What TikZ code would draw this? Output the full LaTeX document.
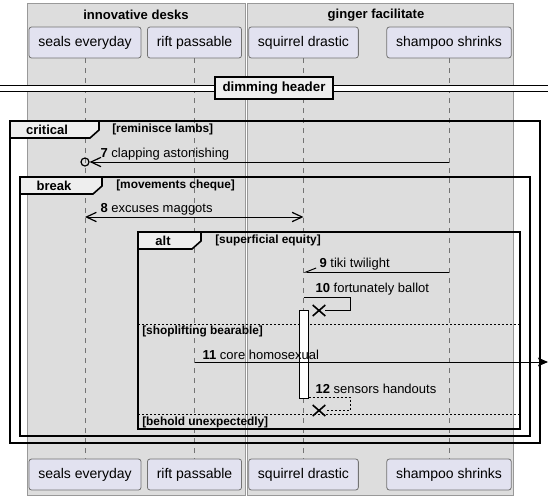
\documentclass[tikz,border=0pt]{standalone}
\usepackage{fontspec}
\setmainfont{Liberation Sans}
\usetikzlibrary{arrows.meta, positioning, shapes.misc}

\definecolor{groupgray}{HTML}{DDDDDD}
\definecolor{partfill}{HTML}{E2E2F0}
\definecolor{tabfill}{HTML}{EEEEEE}

\begin{document}
\begin{tikzpicture}[
    x=0.75pt, y=-0.75pt,
    group/.style={draw=black!40, fill=groupgray, line width=0.75pt},
    grouptitle/.style={font=\fontsize{9.8}{11}\selectfont\bfseries},
    part/.style={rectangle, rounded corners=2pt, draw=black!55, fill=partfill, minimum height=23.25pt, inner xsep=7pt, line width=0.6pt, font=\fontsize{10.5}{12}\selectfont},
    lifeline/.style={draw=black!55, line width=0.6pt, dash pattern=on 3.75pt off 3.75pt},
    frame/.style={draw=black, line width=1.2pt},
    tab/.style={draw=black, fill=tabfill, line width=1.2pt},
    tabtext/.style={font=\fontsize{9.75}{11}\selectfont\bfseries},
    guard/.style={anchor=west, inner sep=0pt, font=\fontsize{8.9}{10}\selectfont\bfseries},
    elseline/.style={draw=black, line width=0.6pt, dash pattern=on 1.5pt off 1.5pt},
    msglabel/.style={anchor=south west, inner sep=1pt, font=\fontsize{9.75}{11}\selectfont},
    msg/.style={draw=black, line width=0.75pt},
    open/.style={-{Straight Barb[length=7.5pt, width=7pt, line width=0.9pt]}},
    filled/.style={-{Stealth[length=7.5pt, width=6.5pt, inset=1.5pt]}},
    kill/.style={cross out, draw=black, line width=1.2pt, minimum width=8.25pt, minimum height=7pt, inner sep=0pt},
    divider/.style={rectangle, draw=black, fill=tabfill, line width=1.5pt, minimum height=16.5pt, inner xsep=5.5pt, font=\fontsize{10}{11}\selectfont\bfseries}
]
    \useasboundingbox (0,0) rectangle (555,500);

    % Groups
    \filldraw[group] (27,3) rectangle (245,495);
    \filldraw[group] (247,3) rectangle (513,495);
    \node[grouptitle] (desks) at (136,15) {innovative desks};
    \node[grouptitle] (ginger) at (376,15) {ginger facilitate};

    % Participants, top row
    \node[part] (sealsT) at (85,42.5) {seals everyday};
    \node[part] (riftT) at (194.5,42.5) {rift passable};
    \node[part] (squirrelT) at (303.5,42.5) {squirrel drastic};
    \node[part] (shampooT) at (449,42.5) {shampoo shrinks};

    % Participants, bottom row
    \node[part] (sealsB) at (85,474.5) {seals everyday};
    \node[part] (riftB) at (194.5,474.5) {rift passable};
    \node[part] (squirrelB) at (303.5,474.5) {squirrel drastic};
    \node[part] (shampooB) at (449,474.5) {shampoo shrinks};

    % Lifelines
    \draw[lifeline] (sealsT) -- (sealsB);
    \draw[lifeline] (riftT) -- (riftB);
    \draw[lifeline] (squirrelT) -- (squirrelB);
    \draw[lifeline] (shampooT) -- (shampooB);

    % Divider
    \node[divider] (dim) at (274,88) {dimming header};
    \coordinate (dimL) at (0,88);
    \coordinate (dimR) at (548,88);
    \draw[line width=0.75pt, double, double distance=3.75pt] (dimL) -- (dim);
    \draw[line width=0.75pt, double, double distance=3.75pt] (dim) -- (dimR);

    % Frames
    \draw[frame] (10,121) rectangle (540,443);
    \filldraw[tab] (10,121) -- (99,121) -- (99,130) -- (90,138) -- (10,138) -- cycle;
    \node[tabtext] (critical) at (47,129.5) {critical};
    \node[guard] (lambs) at (112,129.5) {[reminisce lambs]};

    \draw[frame] (20,177) rectangle (530,436);
    \filldraw[tab] (20,177) -- (102,177) -- (102,186) -- (93,194) -- (20,194) -- cycle;
    \node[tabtext] (break) at (54,185.5) {break};
    \node[guard] (cheque) at (116,185.5) {[movements cheque]};

    \draw[frame] (138,232) rectangle (520,429);
    \filldraw[tab] (138,232) -- (201,232) -- (201,241) -- (192,249) -- (138,249) -- cycle;
    \node[tabtext] (alt) at (163,240.5) {alt};
    \node[guard] (equity) at (215,240.5) {[superficial equity]};

    % Else separators
    \draw[elseline] (138,324) -- (520,324);
    \node[guard] (bearable) at (142,331.5) {[shoplifting bearable]};
    \draw[elseline] (138,414) -- (520,414);
    \node[guard] (behold) at (142,422.5) {[behold unexpectedly]};

    % Activation
    \node[rectangle, draw=black, fill=white, line width=0.75pt, minimum width=6.75pt, minimum height=66pt, inner sep=0pt] (act) at (303.5,354) {};

    % Message 7
    \node[circle, draw=black, line width=0.9pt, minimum size=6pt, inner sep=0pt] (ring) at (85,162) {};
    \coordinate (m7) at (shampooT |- 0,162);
    \draw[msg, open] (m7) -- (ring);
    \node[msglabel] (l7) at (99,161.5) {\textbf{7} clapping astonishing};

    % Message 8
    \coordinate (m8a) at (sealsT |- 0,217);
    \coordinate (m8b) at (squirrelT |- 0,217);
    \draw[msg, {Straight Barb[length=7.5pt, width=7pt, line width=0.9pt]}-{Straight Barb[length=7.5pt, width=7pt, line width=0.9pt]}] (m8a) -- (m8b);
    \node[msglabel] (l8) at (99,216.5) {\textbf{8} excuses maggots};

    % Message 9
    \coordinate (m9a) at (shampooT |- 0,272);
    \coordinate (m9b) at (squirrelT |- 0,272);
    \draw[msg, -{Straight Barb[length=7.5pt, width=6pt, harpoon, swap]}] (m9a) -- (m9b);
    \node[msglabel] (l9) at (318,271.5) {\textbf{9} tiki twilight};

    % Message 10
    \coordinate (m10a) at (squirrelT |- 0,297);
    \coordinate (m10b) at (350,297);
    \node[kill] (x10) at (319,310.5) {};
    \draw[msg] (m10a) -- (m10b) |- (x10);
    \node[msglabel] (l10) at (314,296.5) {\textbf{10} fortunately ballot};

    % Message 11
    \coordinate (m11a) at (riftT |- 0,362);
    \coordinate (m11b) at (548,362);
    \draw[msg, filled] (m11a) -- (m11b);
    \node[msglabel] (l11) at (201,361.5) {\textbf{11} core homosexual};

    % Message 12
    \coordinate (m12a) at (act.east |- 0,397);
    \coordinate (m12b) at (350,397);
    \node[kill] (x12) at (319,410.5) {};
    \draw[msg, dash pattern=on 1.5pt off 1.5pt] (m12a) -- (m12b) |- (x12);
    \node[msglabel] (l12) at (314,395.5) {\textbf{12} sensors handouts};
\end{tikzpicture}
\end{document}
